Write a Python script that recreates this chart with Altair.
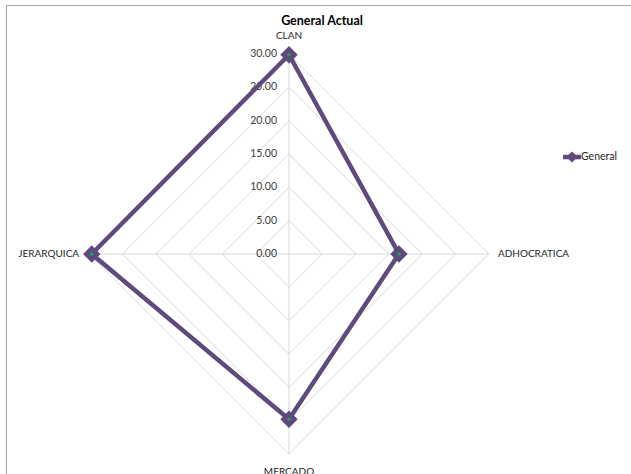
import math
import altair as alt
import pandas as pd

# Series values per axis (clockwise from the top)
categories = ["CLAN", "ADHOCRATICA", "MERCADO", "JERARQUICA"]
general = [29.9, 16.5, 24.8, 29.6]
levels = [0, 5, 10, 15, 20, 25, 30]
series_name = "General"

W, H = 631, 474
CX, CY = 289, 254          # pixel position of the radar centre
PX_PER_UNIT = 6.664        # pixels per data unit

x_dom = [-CX / PX_PER_UNIT, (W - CX) / PX_PER_UNIT]
y_dom = [-(H - CY) / PX_PER_UNIT, CY / PX_PER_UNIT]
xs = alt.Scale(domain=x_dom, nice=False, zero=False)
ys = alt.Scale(domain=y_dom, nice=False, zero=False)
n = len(categories)

PURPLE = "#5f4a7d"
GRID = "#d9d9d9"
FONT = "Lato"

# Series polygon (closed by repeating the first vertex)
series = pd.DataFrame({
    "cat": categories + [categories[0]],
    "idx": list(range(n)) + [n],
    "value": general + [general[0]],
})
# Grid rings
rings = pd.DataFrame(
    [{"level": lv, "idx": i} for lv in levels[1:] for i in range(n + 1)]
)
# Spokes
spokes = pd.DataFrame({"cat": categories, "idx": list(range(n)), "r": [levels[-1]] * n})
ticks = pd.DataFrame({"level": levels})

ang = f"datum.idx * 2 * PI / {n}"


def X(field):
    return alt.X(field, type="quantitative", scale=xs, axis=None)


def Y(field):
    return alt.Y(field, type="quantitative", scale=ys, axis=None)


ring_layer = alt.Chart(rings).transform_calculate(
    px=f"datum.level * sin({ang})", py=f"datum.level * cos({ang})"
).mark_line(color=GRID, strokeWidth=1).encode(
    x=X("px"), y=Y("py"), detail="level:N", order="idx:Q"
)

spoke_layer = alt.Chart(spokes).transform_calculate(
    px=f"datum.r * sin({ang})", py=f"datum.r * cos({ang})", zero="0"
).mark_rule(color=GRID, strokeWidth=1).encode(
    x=X("zero"), y=Y("zero"), x2="px:Q", y2="py:Q"
)

tick_layer = alt.Chart(ticks).transform_calculate(
    zero="0", lab="format(datum.level, '.2f')"
).mark_text(
    align="right", baseline="middle", dx=-12, font=FONT, fontSize=10.5, color="#404040"
).encode(x=X("zero"), y=Y("level"), text="lab:N")

line_layer = alt.Chart(series).transform_calculate(
    px=f"datum.value * sin({ang})", py=f"datum.value * cos({ang})"
).mark_line(color=PURPLE, strokeWidth=4.5, strokeJoin="miter").encode(
    x=X("px"), y=Y("py"), order="idx:Q"
)

pts = alt.Chart(series).transform_filter(f"datum.idx < {n}").transform_calculate(
    px=f"datum.value * sin({ang})", py=f"datum.value * cos({ang})"
)
marker_layer = pts.mark_point(
    shape="diamond", filled=True, fill=PURPLE, stroke=PURPLE, strokeWidth=3, size=175, opacity=1
).encode(x=X("px"), y=Y("py"))
dot_layer = pts.mark_point(
    shape="circle", filled=True, fill="#1fa35a", size=12, opacity=1
).encode(x=X("px"), y=Y("py"))

# Axis name labels
lab_base = alt.Chart(spokes).transform_calculate(
    px=f"datum.r * sin({ang})", py=f"datum.r * cos({ang})"
)
lab_style = dict(font=FONT, fontSize=10, color="#262626")
cat_labels = [
    lab_base.transform_filter("datum.idx == 0").mark_text(
        align="center", baseline="middle", dy=-18, **lab_style),
    lab_base.transform_filter("datum.idx == 1").mark_text(
        align="left", baseline="middle", dx=9, **lab_style),
    lab_base.transform_filter("datum.idx == 2").mark_text(
        align="center", baseline="middle", dy=18, **lab_style),
    lab_base.transform_filter("datum.idx == 3").mark_text(
        align="right", baseline="middle", dx=-10, **lab_style),
]
cat_labels = [c.encode(x=X("px"), y=Y("py"), text="cat:N") for c in cat_labels]

# Title
title_df = pd.DataFrame({"t": ["General Actual"]})
title_layer = alt.Chart(title_df).mark_text(
    font=FONT, fontSize=12.5, fontWeight="bold", color="#000000", align="center", baseline="middle"
).encode(x=alt.value(322), y=alt.value(21), text="t:N")

# Legend entry
leg_df = pd.DataFrame({"name": [series_name]})
leg_line = alt.Chart(leg_df).mark_rule(color=PURPLE, strokeWidth=4.5).encode(
    x=alt.value(563), x2=alt.value(581), y=alt.value(157)
)
leg_mark = alt.Chart(leg_df).mark_point(
    shape="diamond", filled=True, fill=PURPLE, stroke=PURPLE, strokeWidth=2, size=70, opacity=1
).encode(x=alt.value(572), y=alt.value(157))
leg_text = alt.Chart(leg_df).mark_text(
    align="left", baseline="middle", font=FONT, fontSize=10.5, color="#262626"
).encode(x=alt.value(581), y=alt.value(157), text="name:N")

# Chart frame (top and left edges)
frame_top = alt.Chart(leg_df).mark_rule(color="#a6a6a6", strokeWidth=1).encode(
    x=alt.value(6), x2=alt.value(W), y=alt.value(5.5)
)
frame_left = alt.Chart(leg_df).mark_rule(color="#a6a6a6", strokeWidth=1).encode(
    x=alt.value(6.5), y=alt.value(5), y2=alt.value(H)
)

chart = alt.layer(
    frame_top, frame_left, ring_layer, spoke_layer, tick_layer, line_layer,
    marker_layer, dot_layer, *cat_labels, title_layer, leg_line, leg_mark, leg_text
).properties(
    width=W, height=H, padding=0, autosize=alt.AutoSizeParams(type="none"),
    background="white"
).configure_view(stroke=None)

chart.save("out.html", embed_options={"renderer": "svg", "actions": False})
